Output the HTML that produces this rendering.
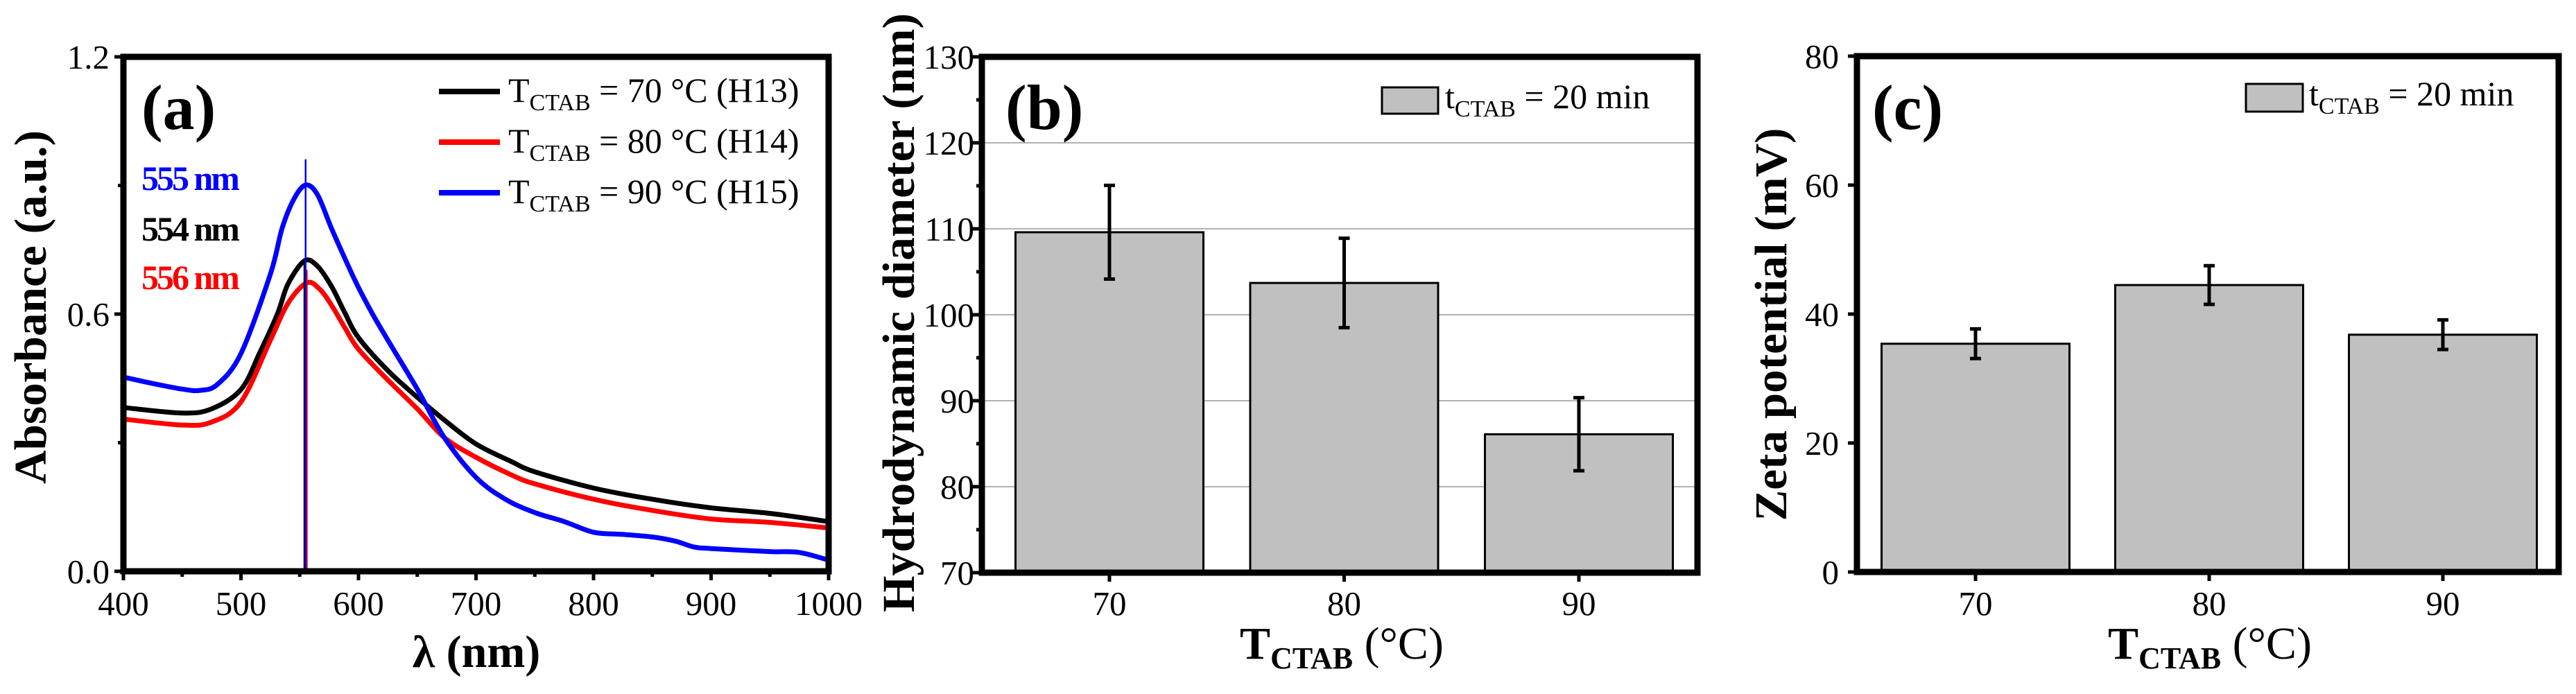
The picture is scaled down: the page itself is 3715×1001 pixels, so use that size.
<!DOCTYPE html>
<html><head><meta charset="utf-8">
<style>
html,body{margin:0;padding:0;background:#fff;}
svg{display:block;font-family:"Liberation Serif",serif;}
</style></head>
<body>
<svg id="fig" width="3715" height="1001" viewBox="0 0 3715 1001" xmlns="http://www.w3.org/2000/svg">
<rect x="0" y="0" width="3715" height="1001" fill="#fff"/>
<g id="pa"></g>
<g id="pb"></g>
<g id="pc"></g>

<text x="204" y="186" font-size="92" font-weight="bold">(a)</text>
<text x="204" y="274" font-size="50" font-weight="bold" fill="#0000ff" letter-spacing="-3">555 nm</text>
<text x="204" y="347" font-size="50" font-weight="bold" fill="#000" letter-spacing="-3">554 nm</text>
<text x="204" y="417" font-size="50" font-weight="bold" fill="#ff0000" letter-spacing="-3">556 nm</text>
<text x="733" y="147" font-size="50">T<tspan font-size="34" dy="12">CTAB</tspan><tspan dy="-12"> = 70 °C (H13)</tspan></text>
<text x="733" y="220" font-size="50">T<tspan font-size="34" dy="12">CTAB</tspan><tspan dy="-12"> = 80 °C (H14)</tspan></text>
<text x="733" y="293" font-size="50">T<tspan font-size="34" dy="12">CTAB</tspan><tspan dy="-12"> = 90 °C (H15)</tspan></text>
<text transform="translate(66,443) rotate(-90)" text-anchor="middle" font-size="66" font-weight="bold" textLength="510" lengthAdjust="spacingAndGlyphs">Absorbance (a.u.)</text>
<text x="687" y="962" text-anchor="middle" font-size="66" font-weight="bold">λ (nm)</text>

<text x="1450" y="186" font-size="92" font-weight="bold">(b)</text>
<text x="2084" y="156" font-size="50">t<tspan font-size="34" dy="12">CTAB</tspan><tspan dy="-12"> = 20 min</tspan></text>
<text transform="translate(1318,451) rotate(-90)" text-anchor="middle" font-size="66" font-weight="bold" textLength="864" lengthAdjust="spacingAndGlyphs">Hydrodynamic diameter (nm)</text>
<text x="1935" y="950" text-anchor="middle" font-size="66"><tspan font-weight="bold">T</tspan><tspan font-weight="bold" font-size="44" dy="14">CTAB</tspan><tspan dy="-14"> (°C)</tspan></text>

<text x="2700" y="186" font-size="92" font-weight="bold">(c)</text>
<text x="3330" y="152" font-size="50">t<tspan font-size="34" dy="12">CTAB</tspan><tspan dy="-12"> = 20 min</tspan></text>
<text transform="translate(2576,468) rotate(-90)" text-anchor="middle" font-size="66" font-weight="bold" textLength="567" lengthAdjust="spacingAndGlyphs">Zeta potential (mV)</text>
<text x="3187" y="950" text-anchor="middle" font-size="66"><tspan font-weight="bold">T</tspan><tspan font-weight="bold" font-size="44" dy="14">CTAB</tspan><tspan dy="-14"> (°C)</tspan></text>
</svg>

<script>
// ---------- Panel (a) data ----------
const waveBlack = [400,450,475,500,516,531,540,554,565,577,588,600,625,650,673,700,730,750,800,850,900,950,1000];
const absBlack  = [0.382,0.369,0.379,0.424,0.510,0.600,0.670,0.724,0.712,0.665,0.605,0.545,0.468,0.406,0.353,0.297,0.256,0.232,0.194,0.168,0.148,0.135,0.116];
const waveRed = [400,450,475,500,525,540,556,567,577,588,600,625,650,673,700,730,750,800,850,900,950,1000];
const absRed  = [0.355,0.341,0.348,0.395,0.539,0.625,0.673,0.658,0.621,0.570,0.518,0.446,0.379,0.312,0.266,0.225,0.204,0.168,0.142,0.122,0.114,0.101];
const waveBlue = [400,425,450,465,480,500,525,535,545,555,565,577,590,600,612,625,650,673,700,725,750,775,800,825,850,870,885,900,950,975,1000];
const absBlue  = [0.453,0.438,0.425,0.422,0.436,0.508,0.693,0.800,0.868,0.901,0.879,0.800,0.720,0.662,0.600,0.539,0.425,0.312,0.219,0.168,0.137,0.116,0.091,0.086,0.080,0.070,0.057,0.053,0.046,0.044,0.026];
const peakWaves = [554,556,555];
const peakAbs   = [0.724,0.673,0.901];
const ticksXa = [400,500,600,700,800,900,1000];
const ticksYa = ["0.0","0.6","1.2"];

// ---------- Panel (b) data ----------
const catsB = [70,80,90];
const diamB = [109.6,103.7,86.1];
const diamErrB = [5.45,5.2,4.25];
const ticksYb = [70,80,90,100,110,120,130];

// ---------- Panel (c) data ----------
const catsC = [70,80,90];
const zetaC = [35.4,44.5,36.8];
const zetaErrC = [2.3,3.0,2.3];
const ticksYc = [0,20,40,60,80];

const NS = "http://www.w3.org/2000/svg";
function mk(parent, tag, attrs){
  const e = document.createElementNS(NS, tag);
  for (const k in attrs) e.setAttribute(k, attrs[k]);
  parent.appendChild(e);
  return e;
}
function smoothPath(P){
  let d = 'M'+P[0][0].toFixed(1)+','+P[0][1].toFixed(1);
  for (let i=0;i<P.length-1;i++){
    const p0=P[Math.max(0,i-1)], p1=P[i], p2=P[i+1], p3=P[Math.min(P.length-1,i+2)];
    const c1x=p1[0]+(p2[0]-p0[0])/6, c1y=p1[1]+(p2[1]-p0[1])/6;
    const c2x=p2[0]-(p3[0]-p1[0])/6, c2y=p2[1]-(p3[1]-p1[1])/6;
    d += ' C'+c1x.toFixed(1)+','+c1y.toFixed(1)+' '+c2x.toFixed(1)+','+c2y.toFixed(1)+' '+p2[0].toFixed(1)+','+p2[1].toFixed(1);
  }
  return d;
}

// ===== Panel (a) =====
(function(){
  const g = document.getElementById('pa');
  const L=178, R=1195, T=82, B=824;
  const xs = v => L + (v-400)/600*(R-L);
  const ys = v => B - v/1.2*(B-T);
  let el;
  for (let v=400; v<=1000; v+=50){
    const major = (v%100===0);
    el = mk(g,'line',{x1:xs(v),x2:xs(v),y1:B,y2:B+(major?13:8),stroke:'#000','stroke-width':5});
    
    
  }
  ticksXa.forEach(v=>{
    el = mk(g,'text',{x:xs(v),y:887,'text-anchor':'middle','font-size':49});
    el.textContent = v;
    
    
  });
  for (let v=0; v<=1.2001; v+=0.3){
    const major = Math.abs((v/0.6)-Math.round(v/0.6))<1e-6;
    el = mk(g,'line',{x1:L-(major?13:8),x2:L,y1:ys(v),y2:ys(v),stroke:'#000','stroke-width':5});
    
    
  }
  ticksYa.forEach(s=>{
    el = mk(g,'text',{x:158,y:ys(parseFloat(s))+17,'text-anchor':'end','font-size':49});
    el.textContent = s;
    
    
  });
  function curve(wx, ay, color, name){
    const P = wx.map((w,i)=>[xs(w), ys(ay[i])]);
    const p = mk(g,'path',{d:smoothPath(P),fill:'none',stroke:color,'stroke-width':7,'stroke-linejoin':'round'});
    
    
  }
  curve(waveBlack,absBlack,'#000','series-h13-70c');
  curve(waveRed,absRed,'#ff0000','series-h14-80c');
  curve(waveBlue,absBlue,'#0000ff','series-h15-90c');
  const pcol=['#000','#ff0000','#0000ff'];
  const ext=[0,0.03,0.06];
  peakWaves.forEach((w,i)=>{
    el = mk(g,'line',{x1:xs(w),x2:xs(w),y1:ys(peakAbs[i]+ext[i]),y2:B,stroke:pcol[i],'stroke-width':2.5});
    
    
  });
  const lc=['#000','#ff0000','#0000ff'], ly=[132,205,278];
  lc.forEach((c,i)=>{
    el = mk(g,'line',{x1:633,x2:721,y1:ly[i],y2:ly[i],stroke:c,'stroke-width':8});
    
    
  });
  el = mk(g,'rect',{x:L,y:T,width:R-L,height:B-T,fill:'none',stroke:'#000','stroke-width':9});
  
  
})();

function barPanel(gid, cats, vals, errs, ticks, L,R,T,B, ymin,ymax, cx0, step, barW, grid, minor, labelRight, suffix, lg){
  const g = document.getElementById(gid);
  const ys = v => B - (v-ymin)/(ymax-ymin)*(B-T);
  const xs = c => cx0 + (c-cats[0])/10*step;
  let el;
  if (grid){
    ticks.forEach(v=>{
      if (v===ymin||v===ymax) return;
      el = mk(g,'line',{x1:L,x2:R,y1:ys(v),y2:ys(v),stroke:'#999','stroke-width':1.5});
      
      
    });
  }
  cats.forEach((c,i)=>{
    el = mk(g,'rect',{x:xs(c)-barW/2,y:ys(vals[i]),width:barW,height:B-ys(vals[i]),fill:'#c0c0c0',stroke:'#000','stroke-width':3});
    
    
    const x=xs(c), yt=ys(vals[i]+errs[i]), yb=ys(vals[i]-errs[i]);
    el = mk(g,'path',{d:`M${x},${yt}V${yb}M${x-8},${yt}H${x+8}M${x-8},${yb}H${x+8}`,stroke:'#000','stroke-width':5,fill:'none'});
    
    
    el = mk(g,'line',{x1:x,x2:x,y1:B,y2:B+13,stroke:'#000','stroke-width':5});
    
    
    el = mk(g,'text',{x:x,y:887,'text-anchor':'middle','font-size':49});
    el.textContent = c;
    
    
  });
  ticks.forEach((v,i)=>{
    el = mk(g,'line',{x1:L-13,x2:L,y1:ys(v),y2:ys(v),stroke:'#000','stroke-width':5});
    
    
    if (minor && i<ticks.length-1){
      const m=(v+ticks[i+1])/2;
      el = mk(g,'line',{x1:L-8,x2:L,y1:ys(m),y2:ys(m),stroke:'#000','stroke-width':5});
      
      
    }
    el = mk(g,'text',{x:labelRight,y:ys(v)+17,'text-anchor':'end','font-size':49});
    el.textContent = v;
    
    
  });
  el = mk(g,'rect',{x:lg[0],y:lg[1],width:lg[2],height:lg[3],fill:'#c0c0c0',stroke:'#000','stroke-width':3});
  
  
  el = mk(g,'rect',{x:L,y:T,width:R-L,height:B-T,fill:'none',stroke:'#000','stroke-width':9});
  
  
}
barPanel('pb', catsB, diamB, diamErrB, ticksYb, 1416,2448,82,826, 70,130, 1600, 338.5, 271, true, true, 1405, 'b', [1993,126,81,38]);
barPanel('pc', catsC, zetaC, zetaErrC, ticksYc, 2678,3690,81,825, 0,80, 2849, 337, 271, false, false, 2652, 'c', [3239,121,82,40]);
</script>
</body></html>
